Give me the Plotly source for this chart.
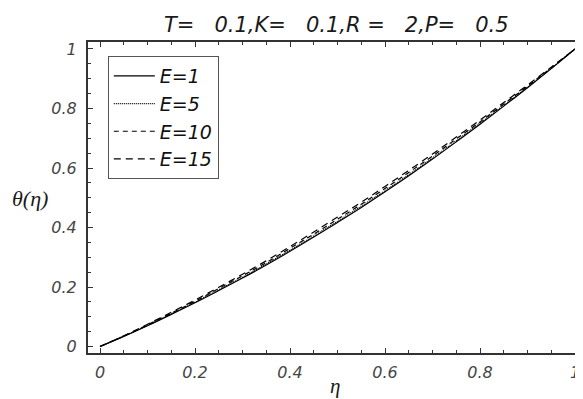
import plotly.graph_objects as go

eta = [0.00, 0.05, 0.10, 0.15, 0.20, 0.25, 0.30, 0.35, 0.40, 0.45, 0.50,
       0.55, 0.60, 0.65, 0.70, 0.75, 0.80, 0.85, 0.90, 0.95, 1.00]
theta_E1 = [0.000, 0.034, 0.070, 0.108, 0.147, 0.188, 0.230, 0.274, 0.320, 0.368, 0.417,
            0.467, 0.520, 0.574, 0.630, 0.688, 0.747, 0.808, 0.870, 0.934, 1.000]
theta_E5 = [0.000, 0.035, 0.071, 0.110, 0.149, 0.191, 0.233, 0.278, 0.324, 0.372, 0.421,
            0.472, 0.524, 0.578, 0.634, 0.692, 0.751, 0.811, 0.872, 0.935, 1.000]
theta_E10 = [0.000, 0.035, 0.073, 0.112, 0.152, 0.195, 0.238, 0.282, 0.330, 0.378, 0.428,
             0.478, 0.531, 0.585, 0.640, 0.698, 0.755, 0.815, 0.875, 0.937, 1.000]
theta_E15 = [0.000, 0.036, 0.075, 0.115, 0.156, 0.199, 0.243, 0.288, 0.336, 0.385, 0.435,
             0.485, 0.538, 0.592, 0.647, 0.704, 0.761, 0.820, 0.879, 0.939, 1.000]

series_names = ["E=1", "E=5", "E=10", "E=15"]
series_values = [theta_E1, theta_E5, theta_E10, theta_E15]
dashes = ["solid", "1px,1px", "5px,4px", "7px,5px"]

sp = "\u00a0"
title_text = f"T={sp*3}0.1,K={sp*3}0.1,R{sp}={sp*3}2,P={sp*3}0.5"

fig = go.Figure()
for name, vals, dash in zip(series_names, series_values, dashes):
    fig.add_trace(go.Scatter(x=eta, y=vals, mode="lines", name=name,
                             line=dict(color="black", width=1.2, dash=dash, shape="spline")))

tickfont = dict(family="DejaVu Sans", size=16, color="#454545", style="italic")
axis_common = dict(
    showline=True, linecolor="#333333", linewidth=2,
    ticks="inside", ticklen=5, tickcolor="#333333", tickwidth=1,
    dtick=0.2, tick0=0,
    minor=dict(dtick=0.05, ticks="inside", ticklen=3, tickcolor="#333333", tickwidth=1),
    showgrid=False, zeroline=False, tickfont=tickfont, automargin=False,
)

fig.update_xaxes(range=[-0.0253, 1.0168], mirror="ticks", ticklabelstandoff=4, **axis_common)
fig.update_yaxes(range=[-0.0218, 1.0235], mirror=False, ticklabelstandoff=6, **axis_common)

# page body adds an 8px offset, so the figure is sized to the remaining area
fig.update_layout(
    width=575, height=391,
    margin=dict(l=80, r=0, t=34, b=46),
    paper_bgcolor="white", plot_bgcolor="white",
    showlegend=True,
    legend=dict(x=0.040, y=0.955, xanchor="left", yanchor="top",
                bgcolor="white", bordercolor="#555555", borderwidth=1,
                font=dict(family="DejaVu Sans", size=19, color="#111111", style="italic"),
                tracegroupgap=0, itemwidth=41),
    annotations=[
        dict(text=title_text, x=0.502, y=1.0547, xref="paper", yref="paper",
             xanchor="center", yanchor="middle", showarrow=False,
             font=dict(family="DejaVu Sans", size=21, color="#1a1a1a", style="italic")),
        dict(text="η", x=0.499, y=-0.107, xref="paper", yref="paper",
             xanchor="center", yanchor="middle", showarrow=False,
             font=dict(family="Liberation Serif", size=21, color="#1a1a1a", style="italic")),
        dict(text="θ(η)", x=-0.117, y=0.498, xref="paper", yref="paper",
             xanchor="center", yanchor="middle", showarrow=False,
             font=dict(family="Liberation Serif", size=22, color="#1a1a1a", style="italic")),
    ],
)

fig.write_html("out.html")
